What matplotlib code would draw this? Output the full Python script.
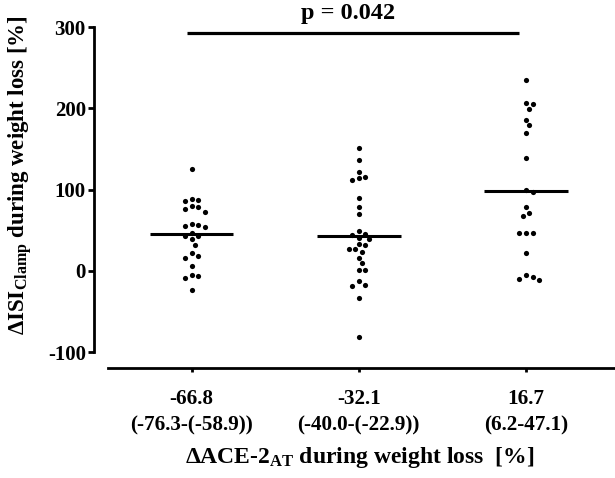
import numpy as np
import matplotlib
matplotlib.use("Agg")
import matplotlib.pyplot as plt

plt.rcParams['font.family'] = ['Liberation Serif', 'DejaVu Serif']
plt.rcParams['font.weight'] = 'bold'
plt.rcParams['mathtext.fontset'] = 'custom'
plt.rcParams['mathtext.bf'] = 'Liberation Serif:bold'
plt.rcParams['mathtext.rm'] = 'Liberation Serif:bold'
plt.rcParams['mathtext.it'] = 'Liberation Serif:bold'

# ---- data ----
categories = ["-66.8\n(-76.3-(-58.9))", "-32.1\n(-40.0-(-22.9))", "16.7\n(6.2-47.1)"]
group1 = [125, 88, 86, 87, 79.5, 76.5, 78.6, 72.5, 56.8, 53.6, 54.8, 58, 47,
          42.8, 42.4, 39, 32, 18, 16, 22, 6, -6, -9.4, -5.3, -24]
group2 = [150.6, 135.8, 116, 121, 113.6, 112, 90, 78, 70, 45.3, 44, 48.6, 38.8,
          40.4, 32, 33, 26.4, 23, 26.8, 15.7, 9, 0.8, 0.4, -13, -18.5, -18,
          -33.7, -82]
group3 = [234.6, 205.8, 199.3, 206.2, 185.7, 179.5, 170, 138.4, 100, 96.8, 78.6,
          71.6, 68, 47, 46, 47, 22, -8, -11.5, -10, -5.3]
groups = [group1, group2, group3]
y_ticks = [-100, 0, 100, 200, 300]
p_text = "p = 0.042"
p_level = 293

W, H = 615, 478
fig = plt.figure(figsize=(W / 100, H / 100), dpi=100)
ax_left, ax_right, ax_top, ax_bot = 108, 615, 27, 352
ax = fig.add_axes([ax_left / W, 1 - ax_bot / H, (ax_right - ax_left) / W, (ax_bot - ax_top) / H])
ax.set_xlim(0.5, 3.533)
ax.set_ylim(-100, 300)

px_per_x = (ax_right - ax_left) / (3.533 - 0.5)
px_per_y = (ax_bot - ax_top) / 400.0


def swarm(vals, step=3.33, mind=6.0):
    order = np.argsort(vals)[::-1]
    placed = []
    offs = np.zeros(len(vals))
    for i in order:
        yp = vals[i] * px_per_y
        cands = [0]
        for k in range(1, 30):
            cands += [k * step, -k * step]
        for c in cands:
            ok = True
            for (xo, yo) in placed:
                if (xo - c) ** 2 + (yo - yp) ** 2 < mind ** 2:
                    ok = False
                    break
            if ok:
                offs[i] = c
                placed.append((c, yp))
                break
    return offs / px_per_x


for gi, vals in enumerate(groups):
    vals = np.array(vals, dtype=float)
    xc = gi + 1
    offs = swarm(vals)
    ax.scatter(xc + offs, vals, s=14, color='black', linewidths=0, zorder=3)
    m = vals.mean()
    ax.plot([xc - 0.25, xc + 0.25], [m, m], color='black', lw=2.2, zorder=2,
            solid_capstyle='butt')

# significance bar
ax.plot([0.97, 2.96], [p_level, p_level], color='black', lw=2.3, clip_on=False,
        solid_capstyle='butt')
fig.text(348 / W, 1 - 13 / H, p_text, ha='center', va='center', fontsize=17.5,
         fontweight='bold')

# spines
for s in ['top', 'right']:
    ax.spines[s].set_visible(False)
ax.spines['left'].set_position(('outward', 10))
ax.spines['bottom'].set_position(('outward', 11.5))
ax.spines['left'].set_linewidth(2)
ax.spines['bottom'].set_linewidth(2)

ax.set_yticks(y_ticks)
ax.set_yticklabels([str(t) for t in y_ticks], fontsize=15, fontweight='bold')
ax.set_xticks([1, 2, 3])
ax.set_xticklabels(categories, fontsize=15.2, fontweight='bold', linespacing=1.45)
ax.tick_params(axis='y', length=4, width=2, pad=2)
ax.tick_params(axis='x', length=3, width=2, pad=12)

fig.text(360 / W, 1 - 458 / H, r'ΔACE-2$_{\mathbf{AT}}$ during weight loss  [%]',
         ha='center', va='center', fontsize=17, fontweight='bold')
fig.text(20 / W, 1 - 175 / H, r'ΔISI$_{\mathbf{Clamp}}$ during weight loss [%]',
         ha='center', va='center', rotation=90, fontsize=16.5, fontweight='bold')

fig.savefig('out.png', dpi=100)
